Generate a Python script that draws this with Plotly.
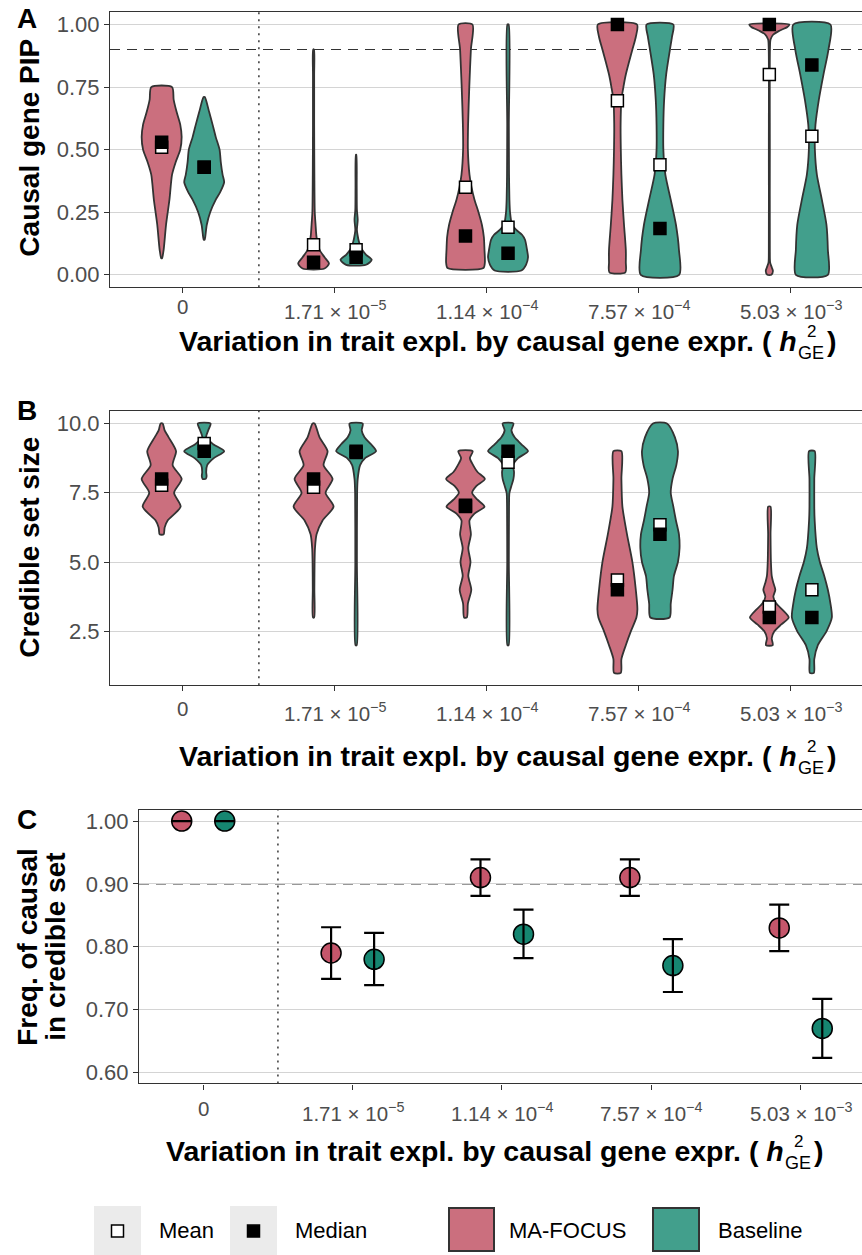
import plotly.graph_objects as go

W, H = 862, 1255

# ---------------- data ----------------
CATEGORIES = ["0", "1.71 × 10<sup>−5</sup>", "1.14 × 10<sup>−4</sup>",
              "7.57 × 10<sup>−4</sup>", "5.03 × 10<sup>−3</sup>"]
METHODS = ["MA-FOCUS", "Baseline"]

# Panel A: causal gene PIP, violin density profiles (value levels, relative density)
PIP_MA_LEVELS = [
    [0.066, 0.10, 0.20, 0.30, 0.40, 0.45, 0.50, 0.55, 0.60, 0.65, 0.70, 0.75],
    [0.025, 0.045, 0.07, 0.10, 0.15, 0.20, 0.25, 0.40, 0.60, 0.80, 0.90],
    [0.027, 0.05, 0.10, 0.15, 0.20, 0.25, 0.30, 0.35, 0.40, 0.50, 0.60, 0.75, 0.90, 1.00],
    [0.01, 0.05, 0.10, 0.20, 0.30, 0.40, 0.50, 0.60, 0.70, 0.75, 0.80, 0.85, 0.90, 0.95, 1.00],
    [0.0, 0.015, 0.03, 0.05, 0.10, 0.50, 0.90, 0.94, 0.96, 0.975, 0.99, 1.00],
]
PIP_MA_DENS = [
    [0.02, 0.10, 0.22, 0.39, 0.52, 0.70, 0.93, 1.00, 0.93, 0.75, 0.60, 0.52],
    [0.55, 0.77, 0.55, 0.30, 0.15, 0.10, 0.06, 0.04, 0.03, 0.03, 0.02],
    [0.90, 0.97, 0.95, 0.92, 0.82, 0.65, 0.45, 0.30, 0.20, 0.12, 0.13, 0.19, 0.27, 0.35],
    [0.40, 0.42, 0.42, 0.33, 0.25, 0.20, 0.17, 0.16, 0.20, 0.30, 0.42, 0.58, 0.75, 0.92, 0.98],
    [0.10, 0.18, 0.12, 0.04, 0.025, 0.025, 0.03, 0.06, 0.20, 0.50, 0.90, 1.00],
]
PIP_BL_LEVELS = [
    [0.14, 0.15, 0.20, 0.25, 0.30, 0.33, 0.37, 0.40, 0.45, 0.50, 0.55, 0.60, 0.65, 0.71],
    [0.04, 0.06, 0.08, 0.10, 0.13, 0.16, 0.18, 0.22, 0.26, 0.35, 0.48],
    [0.017, 0.04, 0.07, 0.10, 0.14, 0.16, 0.18, 0.20, 0.25, 0.30, 0.40, 0.60, 1.00],
    [0.0, 0.10, 0.20, 0.30, 0.40, 0.50, 0.60, 0.70, 0.80, 0.90, 0.95, 1.00],
    [0.0, 0.10, 0.20, 0.30, 0.40, 0.50, 0.55, 0.60, 0.70, 0.80, 0.90, 1.00],
]
PIP_BL_DENS = [
    [0.02, 0.05, 0.13, 0.30, 0.58, 0.80, 1.00, 0.92, 0.83, 0.77, 0.58, 0.42, 0.25, 0.03],
    [0.50, 0.78, 0.50, 0.30, 0.15, 0.07, 0.04, 0.08, 0.04, 0.03, 0.01],
    [0.67, 0.90, 1.00, 0.95, 0.85, 0.70, 0.40, 0.20, 0.10, 0.07, 0.05, 0.04, 0.03],
    [0.96, 0.95, 0.80, 0.54, 0.27, 0.17, 0.17, 0.21, 0.31, 0.50, 0.60, 0.67],
    [0.80, 0.80, 0.73, 0.50, 0.25, 0.15, 0.15, 0.18, 0.35, 0.58, 0.83, 0.93],
]
PIP_MA_MEAN = [0.51, 0.12, 0.35, 0.695, 0.80]
PIP_MA_MEDIAN = [0.53, 0.05, 0.155, 1.00, 1.00]
PIP_BL_MEAN = [0.43, 0.10, 0.19, 0.44, 0.553]
PIP_BL_MEDIAN = [0.43, 0.07, 0.086, 0.185, 0.838]

# Panel B: credible set size
CS_MA_LEVELS = [
    [6.0, 6.25, 6.5, 7.0, 7.5, 8.0, 8.5, 9.0, 9.5, 9.75, 10.0],
    [3.0, 4.0, 5.0, 5.5, 6.0, 6.5, 7.0, 7.5, 8.0, 8.5, 9.0, 9.5, 10.0],
    [3.0, 3.5, 4.0, 4.5, 5.0, 5.5, 6.0, 6.5, 6.75, 7.0, 7.25, 7.5, 7.75, 8.0, 8.25, 8.5, 8.75, 9.0],
    [1.0, 1.5, 2.0, 2.5, 3.0, 3.3, 4.0, 5.0, 6.0, 7.0, 8.0, 9.0],
    [2.0, 2.25, 2.5, 2.75, 3.0, 3.25, 3.5, 3.75, 4.0, 4.25, 4.5, 5.0, 6.0, 7.0],
]
CS_MA_DENS = [
    [0.10, 0.15, 0.30, 0.95, 0.62, 1.00, 0.55, 0.72, 0.35, 0.15, 0.05],
    [0.03, 0.04, 0.05, 0.07, 0.15, 0.45, 1.00, 0.60, 0.95, 0.50, 0.70, 0.30, 0.05],
    [0.07, 0.12, 0.29, 0.14, 0.25, 0.14, 0.27, 0.20, 0.45, 0.95, 0.60, 0.33, 0.55, 0.97, 0.60, 0.38, 0.22, 0.36],
    [0.17, 0.20, 0.42, 0.67, 0.95, 1.00, 0.92, 0.75, 0.48, 0.25, 0.20, 0.20],
    [0.17, 0.12, 0.25, 0.60, 0.97, 0.70, 0.35, 0.20, 0.30, 0.20, 0.12, 0.08, 0.06, 0.06],
]
CS_BL_LEVELS = [
    [8.0, 8.1, 8.25, 8.5, 8.75, 9.0, 9.25, 9.5, 9.75, 10.0],
    [2.0, 5.0, 7.5, 8.0, 8.5, 8.75, 9.0, 9.25, 9.5, 9.75, 10.0],
    [2.0, 5.0, 7.0, 7.5, 7.75, 8.0, 8.25, 8.5, 8.75, 9.0, 9.25, 9.5, 9.75, 10.0],
    [3.0, 3.5, 4.0, 4.5, 5.0, 5.5, 6.0, 6.5, 7.0, 7.5, 8.0, 8.5, 9.0, 9.5, 10.0],
    [1.0, 1.5, 2.0, 2.5, 3.0, 3.5, 4.0, 4.5, 5.0, 5.5, 6.5, 7.0, 8.0, 9.0],
]
CS_BL_DENS = [
    [0.08, 0.12, 0.10, 0.15, 0.48, 1.00, 0.45, 0.10, 0.20, 0.32],
    [0.03, 0.04, 0.05, 0.08, 0.20, 0.45, 1.00, 0.75, 0.42, 0.28, 0.33],
    [0.03, 0.04, 0.05, 0.07, 0.17, 0.27, 0.30, 0.25, 0.50, 1.00, 0.67, 0.33, 0.17, 0.27],
    [0.48, 0.54, 0.63, 0.70, 0.90, 0.98, 0.95, 0.80, 0.67, 0.54, 0.63, 0.82, 0.90, 0.75, 0.35],
    [0.10, 0.12, 0.30, 0.73, 1.00, 0.93, 0.80, 0.62, 0.40, 0.25, 0.14, 0.12, 0.12, 0.14],
]
CS_MA_MEAN = [7.77, 7.70, 7.05, 4.35, 3.38]
CS_MA_MEDIAN = [8.0, 8.0, 7.0, 4.0, 3.0]
CS_BL_MEAN = [9.28, 8.95, 8.60, 6.35, 4.00]
CS_BL_MEDIAN = [9.0, 9.0, 9.0, 6.0, 3.0]

# Panel C: frequency of causal gene in credible set (+ interval)
FREQ_MA = [1.00, 0.79, 0.91, 0.91, 0.83]
FREQ_MA_LO = [1.00, 0.749, 0.881, 0.881, 0.793]
FREQ_MA_HI = [1.00, 0.831, 0.939, 0.939, 0.867]
FREQ_BL = [1.00, 0.78, 0.82, 0.77, 0.67]
FREQ_BL_LO = [1.00, 0.739, 0.782, 0.728, 0.623]
FREQ_BL_HI = [1.00, 0.822, 0.859, 0.812, 0.717]

# ---------------- style ----------------
FONT = "Liberation Sans, Arial, Helvetica, sans-serif"
VIOLIN_FILL = {"MA-FOCUS": "#CB6F7E", "Baseline": "#429F8C"}
POINT_FILL = {"MA-FOCUS": "#C5566B", "Baseline": "#168671"}
OUTLINE = "#333333"
GRID = "#D4D4D4"
TICKCOL = "#4D4D4D"

DODGE_AB = 0.14
DODGE_C = 0.144
HALF_W = 0.1316

# panel pixel boxes (left, top, bottom)
PANEL_A = (110, 11, 287)
PANEL_B = (110, 411, 686)
PANEL_C = (139, 810.7, 1085)


def px_x(px):
    return px / W


def px_y(py):
    return 1 - py / H


fig = go.Figure()


def add_violins(levels_all, dens_all, offset, color, xa, ya):
    for i, (lv, dn) in enumerate(zip(levels_all, dens_all)):
        xc = i + offset
        xs = [xc + d * HALF_W for d in dn] + [xc - d * HALF_W for d in dn[::-1]]
        ys = list(lv) + list(lv[::-1])
        xs.append(xs[0])
        ys.append(ys[0])
        fig.add_trace(go.Scatter(
            x=xs, y=ys, mode="lines", fill="toself", fillcolor=color,
            line=dict(color=OUTLINE, width=1.8, shape="spline", smoothing=0.7),
            xaxis=xa, yaxis=ya, hoverinfo="skip", showlegend=False))


def add_stats(vals, offset, fill, xa, ya):
    fig.add_trace(go.Scatter(
        x=[i + offset for i in range(len(vals))], y=vals, mode="markers",
        marker=dict(symbol="square", size=12, color=fill,
                    line=dict(color="black", width=1.5)),
        xaxis=xa, yaxis=ya, hoverinfo="skip", showlegend=False))


# Panel A
add_violins(PIP_MA_LEVELS, PIP_MA_DENS, -DODGE_AB, VIOLIN_FILL["MA-FOCUS"], "x", "y")
add_violins(PIP_BL_LEVELS, PIP_BL_DENS, DODGE_AB, VIOLIN_FILL["Baseline"], "x", "y")
add_stats(PIP_MA_MEAN, -DODGE_AB, "white", "x", "y")
add_stats(PIP_BL_MEAN, DODGE_AB, "white", "x", "y")
add_stats(PIP_MA_MEDIAN, -DODGE_AB, "black", "x", "y")
add_stats(PIP_BL_MEDIAN, DODGE_AB, "black", "x", "y")

# Panel B
add_violins(CS_MA_LEVELS, CS_MA_DENS, -DODGE_AB, VIOLIN_FILL["MA-FOCUS"], "x2", "y2")
add_violins(CS_BL_LEVELS, CS_BL_DENS, DODGE_AB, VIOLIN_FILL["Baseline"], "x2", "y2")
add_stats(CS_MA_MEAN, -DODGE_AB, "white", "x2", "y2")
add_stats(CS_BL_MEAN, DODGE_AB, "white", "x2", "y2")
add_stats(CS_MA_MEDIAN, -DODGE_AB, "black", "x2", "y2")
add_stats(CS_BL_MEDIAN, DODGE_AB, "black", "x2", "y2")

# Panel C
for vals, lo, hi, off, m in [(FREQ_MA, FREQ_MA_LO, FREQ_MA_HI, -DODGE_C, "MA-FOCUS"),
                             (FREQ_BL, FREQ_BL_LO, FREQ_BL_HI, DODGE_C, "Baseline")]:
    xs = [i + off for i in range(len(vals))]
    fig.add_trace(go.Scatter(
        x=xs, y=vals, mode="markers",
        marker=dict(symbol="circle", size=20, color=POINT_FILL[m],
                    line=dict(color="black", width=1.5)),
        xaxis="x3", yaxis="y3", hoverinfo="skip", showlegend=False))
    fig.add_trace(go.Scatter(
        x=xs, y=vals, mode="markers",
        marker=dict(size=1, color="rgba(0,0,0,0)"),
        error_y=dict(type="data", symmetric=False,
                     array=[h - v for h, v in zip(hi, vals)],
                     arrayminus=[v - l for v, l in zip(vals, lo)],
                     color="black", thickness=2.2, width=10),
        xaxis="x3", yaxis="y3", hoverinfo="skip", showlegend=False))

# ---------------- axes ----------------
xcommon = dict(tickmode="array", tickvals=list(range(5)), showticklabels=False,
               showgrid=False, zeroline=False, showline=True, mirror=True,
               linecolor=OUTLINE, linewidth=1.2, ticks="outside", ticklen=5,
               tickcolor=OUTLINE, tickwidth=1.2)
ycommon = dict(showgrid=True, gridcolor=GRID, gridwidth=1.2, zeroline=False,
               showline=True, mirror=False, linecolor=OUTLINE, linewidth=1.2,
               ticks="outside", ticklen=5, tickcolor=OUTLINE, tickwidth=1.2,
               tickfont=dict(family=FONT, size=22, color=TICKCOL))

fig.update_layout(
    width=W, height=H, margin=dict(l=0, r=0, t=0, b=0),
    paper_bgcolor="white", plot_bgcolor="white", showlegend=False,
    font=dict(family=FONT),
    xaxis=dict(domain=[px_x(PANEL_A[0]), 1.0], range=[-0.48, 4.47], anchor="y", **xcommon),
    yaxis=dict(domain=[px_y(PANEL_A[2]), px_y(PANEL_A[1])], range=[-0.05, 1.05], anchor="x",
               tickvals=[0, 0.25, 0.5, 0.75, 1.0], tickformat=".2f", **ycommon),
    xaxis2=dict(domain=[px_x(PANEL_B[0]), 1.0], range=[-0.48, 4.47], anchor="y2", **xcommon),
    yaxis2=dict(domain=[px_y(PANEL_B[2]), px_y(PANEL_B[1])], range=[0.55, 10.45], anchor="x2",
                tickvals=[2.5, 5.0, 7.5, 10.0], tickformat=".1f", **ycommon),
    xaxis3=dict(domain=[px_x(PANEL_C[0]), 1.0], range=[-0.43, 4.41], anchor="y3", **xcommon),
    yaxis3=dict(domain=[px_y(PANEL_C[2]), px_y(PANEL_C[1])], range=[0.5825, 1.018], anchor="x3",
                tickvals=[0.6, 0.7, 0.8, 0.9, 1.0], tickformat=".2f", **ycommon),
)

shapes = []
# reference lines
for xa, ya in [("x", "y"), ("x2", "y2"), ("x3", "y3")]:
    shapes.append(dict(type="line", xref=xa, yref=f"{ya} domain", x0=0.5, x1=0.5, y0=0, y1=1,
                       line=dict(color="#444444", width=1.6, dash="2px,5px"), layer="below"))
for xa, ya in [("x", "y"), ("x3", "y3")]:
    shapes.append(dict(type="line", xref=f"{xa} domain", yref=ya, x0=0, x1=1, y0=0.9, y1=0.9,
                       line=dict(color=OUTLINE, width=1.2, dash="10px,7px"), layer="below"))

# legend
LEG_Y0, LEG_Y1 = 1208, 1262
for x0, x1 in [(94, 141), (230, 277)]:
    shapes.append(dict(type="rect", xref="paper", yref="paper", x0=px_x(x0), x1=px_x(x1),
                       y0=px_y(LEG_Y1), y1=px_y(LEG_Y0), fillcolor="#EBEBEB", line=dict(width=0)))
for cx, fill in [(117.5, "white"), (253.5, "black")]:
    shapes.append(dict(type="rect", xref="paper", yref="paper", x0=px_x(cx - 6), x1=px_x(cx + 6),
                       y0=px_y(1239), y1=px_y(1227), fillcolor=fill,
                       line=dict(color="black", width=1.5)))
for (x0, x1), m in [((449, 494), "MA-FOCUS"), ((653, 699), "Baseline")]:
    shapes.append(dict(type="rect", xref="paper", yref="paper", x0=px_x(x0), x1=px_x(x1),
                       y0=px_y(1253), y1=px_y(1210), fillcolor=VIOLIN_FILL[m],
                       line=dict(color=OUTLINE, width=2)))
fig.update_layout(shapes=shapes)

ann = []
# x tick labels (top-aligned as in the original, drawn at the category positions)
for xa, panel, extra in [("x", PANEL_A, -2), ("x2", PANEL_B, 2), ("x3", PANEL_C, 4)]:
    axis_px = panel[2]
    for i, lab in enumerate(CATEGORIES):
        top = axis_px + extra + (8 if i == 0 else 10)
        ann.append(dict(text=lab, x=i, xref=xa, y=px_y(top), yref="paper", showarrow=False,
                        xanchor="center", yanchor="top",
                        font=dict(family=FONT, size=20.5, color=TICKCOL)))
# panel tags
for tag, py in [("A", 18), ("B", 410), ("C", 820)]:
    ann.append(dict(text=f"<b>{tag}</b>", x=px_x(27), y=px_y(py), xref="paper", yref="paper",
                    showarrow=False, xanchor="center", yanchor="middle",
                    font=dict(family=FONT, size=28, color="black")))
# y titles
for txt, px, py in [("<b>Causal gene PIP</b>", 30, 147), ("<b>Credible set size</b>", 30, 548),
                    ("<b>Freq. of causal</b>", 28, 948), ("<b>in credible set</b>", 56, 948)]:
    ann.append(dict(text=txt, x=px_x(px), y=px_y(py), xref="paper", yref="paper",
                    showarrow=False, textangle=-90, xanchor="center", yanchor="middle",
                    font=dict(family=FONT, size=28, color="black")))
# x titles with stacked h^2_GE
for hx, ty in [(799, 341), (799, 757), (786, 1153)]:
    ann.append(dict(text="<b>Variation in trait expl. by causal gene expr. ( <i>h</i></b>",
                    x=px_x(hx), y=px_y(ty), xref="paper", yref="paper", showarrow=False,
                    xanchor="right", yanchor="middle",
                    font=dict(family=FONT, size=28.5, color="black")))
    ann.append(dict(text="2", x=px_x(hx + 12), y=px_y(ty - 10), xref="paper", yref="paper",
                    showarrow=False, xanchor="center", yanchor="middle",
                    font=dict(family=FONT, size=17, color="black")))
    ann.append(dict(text="GE", x=px_x(hx + 12), y=px_y(ty + 12), xref="paper", yref="paper",
                    showarrow=False, xanchor="center", yanchor="middle",
                    font=dict(family=FONT, size=18, color="black")))
    ann.append(dict(text="<b>)</b>", x=px_x(hx + 26), y=px_y(ty), xref="paper", yref="paper",
                    showarrow=False, xanchor="left", yanchor="middle",
                    font=dict(family=FONT, size=28.5, color="black")))
# legend labels
for txt, px in [("Mean", 157), ("Median", 293), (METHODS[0], 507), (METHODS[1], 716)]:
    ann.append(dict(text=txt, x=px_x(px), y=px_y(1232), xref="paper", yref="paper",
                    showarrow=False, xanchor="left", yanchor="middle",
                    font=dict(family=FONT, size=22, color="black")))
fig.update_layout(annotations=ann)

fig.write_html("out.html")
